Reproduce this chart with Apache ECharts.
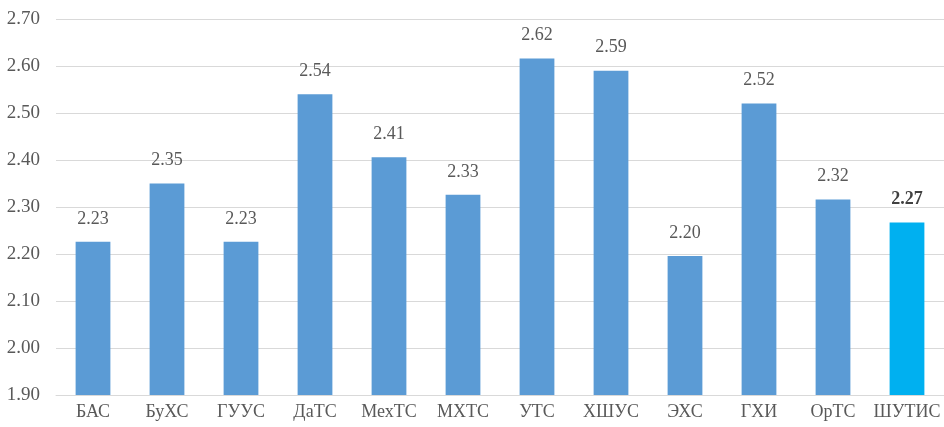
<!DOCTYPE html>
<html><head><meta charset="utf-8">
<script src="https://cdn.jsdelivr.net/npm/echarts@6/dist/echarts.min.js"></script>
<style>html,body{margin:0;padding:0;background:#fff}#c{width:944px;height:427px}</style>
</head><body><div id="c"></div>
<script>
const categories = ['БАС','БуХС','ГУУС','ДаТС','МехТС','МХТС','УТС','ХШУС','ЭХС','ГХИ','ОрТС','ШУТИС'];
const values = [2.226, 2.35, 2.226, 2.54, 2.406, 2.326, 2.616, 2.59, 2.196, 2.52, 2.316, 2.267];
const highlightIndex = 11;
const yTicks = {min: 1.9, max: 2.7, interval: 0.1};

const FONT = '"Liberation Serif", "Times New Roman", serif';
const chart = echarts.init(document.getElementById('c'));
chart.setOption({
  animation: false,
  grid: {left: 56, right: 0, top: 19, bottom: 32},
  xAxis: {
    type: 'category', data: categories,
    axisLine: {lineStyle: {color: '#D9D9D9', width: 1}},
    axisTick: {show: false},
    axisLabel: {color: '#595959', fontFamily: FONT, fontSize: 18, margin: 8, interval: 0}
  },
  yAxis: {
    type: 'value', min: yTicks.min, max: yTicks.max, interval: yTicks.interval,
    axisLine: {show: false}, axisTick: {show: false},
    splitLine: {lineStyle: {color: '#D9D9D9', width: 1}},
    axisLabel: {color: '#595959', fontFamily: FONT, fontSize: 19, margin: 16,
      formatter: v => v.toFixed(2)}
  },
  series: [{
    type: 'bar', barWidth: '47%',
    data: values.map((v, i) => i === highlightIndex
      ? {value: v, itemStyle: {color: '#00B0F0'}, label: {fontWeight: 'bold', color: '#404040'}}
      : v),
    itemStyle: {color: '#5B9BD5'},
    label: {show: true, position: 'top', distance: 14, color: '#595959',
      fontFamily: FONT, fontSize: 18, formatter: p => p.value.toFixed(2)}
  }]
});
</script></body></html>
